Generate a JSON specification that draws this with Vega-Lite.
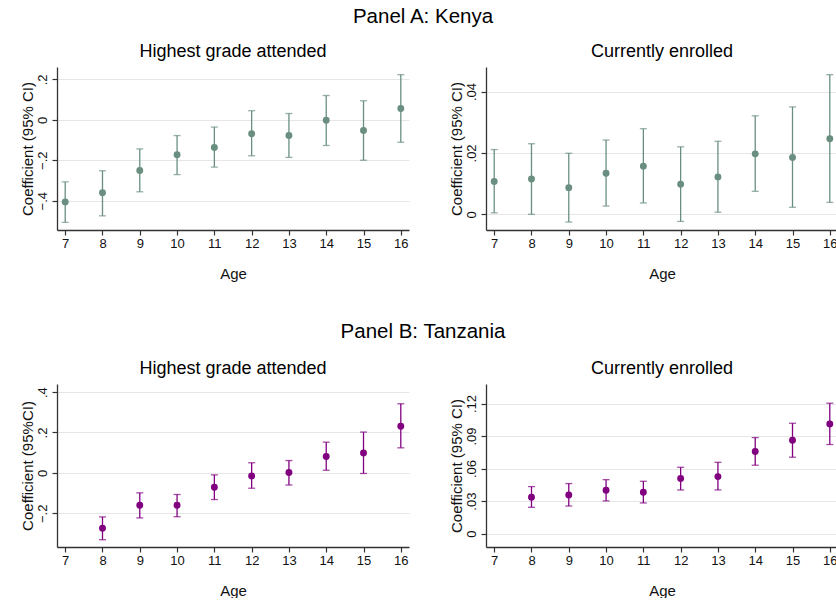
{
  "$schema": "https://vega.github.io/schema/vega-lite/v6.json",
  "background": "white",
  "padding": {"left": 20, "top": 6, "right": 0, "bottom": 0},
  "config": {
    "font": "Liberation Sans",
    "view": {"stroke": null},
    "title": {"font": "Liberation Sans", "fontWeight": "normal", "color": "black"},
    "axis": {
      "labelFont": "Liberation Sans",
      "titleFont": "Liberation Sans",
      "labelFontSize": 13,
      "titleFontSize": 15,
      "titleFontWeight": "normal",
      "labelColor": "#111",
      "titleColor": "#111",
      "domainColor": "#333",
      "domainWidth": 1.3,
      "tickColor": "#333",
      "tickWidth": 1.2,
      "tickSize": 5
    },
    "axisX": {"grid": false, "labelPadding": 2, "titlePadding": 16},
    "axisY": {
      "grid": true,
      "gridColor": "#e6e6e6",
      "gridWidth": 1.2,
      "labelAngle": -90,
      "labelAlign": "center",
      "labelBaseline": "bottom",
      "labelPadding": 3,
      "titlePadding": 1
    }
  },
  "datasets": {
    "kenya_grade": [
      {"age": 7, "coef": -0.406, "lo": -0.507, "hi": -0.307},
      {"age": 8, "coef": -0.361, "lo": -0.475, "hi": -0.252},
      {"age": 9, "coef": -0.251, "lo": -0.356, "hi": -0.144},
      {"age": 10, "coef": -0.173, "lo": -0.271, "hi": -0.078},
      {"age": 11, "coef": -0.137, "lo": -0.234, "hi": -0.036},
      {"age": 12, "coef": -0.069, "lo": -0.178, "hi": 0.045},
      {"age": 13, "coef": -0.078, "lo": -0.186, "hi": 0.031},
      {"age": 14, "coef": -0.002, "lo": -0.127, "hi": 0.120},
      {"age": 15, "coef": -0.053, "lo": -0.200, "hi": 0.094},
      {"age": 16, "coef": 0.056, "lo": -0.111, "hi": 0.223}
    ],
    "kenya_enrolled": [
      {"age": 7, "coef": 0.0107, "lo": 0.0005, "hi": 0.0211},
      {"age": 8, "coef": 0.0115, "lo": 0.0000, "hi": 0.0230},
      {"age": 9, "coef": 0.0087, "lo": -0.0025, "hi": 0.0199},
      {"age": 10, "coef": 0.0134, "lo": 0.0027, "hi": 0.0242},
      {"age": 11, "coef": 0.0157, "lo": 0.0037, "hi": 0.0279},
      {"age": 12, "coef": 0.0098, "lo": -0.0023, "hi": 0.0220},
      {"age": 13, "coef": 0.0122, "lo": 0.0007, "hi": 0.0238},
      {"age": 14, "coef": 0.0197, "lo": 0.0075, "hi": 0.0321},
      {"age": 15, "coef": 0.0185, "lo": 0.0023, "hi": 0.0350},
      {"age": 16, "coef": 0.0246, "lo": 0.0039, "hi": 0.0455}
    ],
    "tanzania_grade": [
      {"age": 8, "coef": -0.274, "lo": -0.331, "hi": -0.218},
      {"age": 9, "coef": -0.160, "lo": -0.223, "hi": -0.099},
      {"age": 10, "coef": -0.160, "lo": -0.217, "hi": -0.107},
      {"age": 11, "coef": -0.071, "lo": -0.132, "hi": -0.010},
      {"age": 12, "coef": -0.015, "lo": -0.076, "hi": 0.050},
      {"age": 13, "coef": 0.002, "lo": -0.060, "hi": 0.061},
      {"age": 14, "coef": 0.081, "lo": 0.013, "hi": 0.152},
      {"age": 15, "coef": 0.099, "lo": -0.003, "hi": 0.202},
      {"age": 16, "coef": 0.231, "lo": 0.124, "hi": 0.342}
    ],
    "tanzania_enrolled": [
      {"age": 8, "coef": 0.0335, "lo": 0.0243, "hi": 0.0434},
      {"age": 9, "coef": 0.0357, "lo": 0.0255, "hi": 0.0462},
      {"age": 10, "coef": 0.0400, "lo": 0.0302, "hi": 0.0498},
      {"age": 11, "coef": 0.0382, "lo": 0.0283, "hi": 0.0483},
      {"age": 12, "coef": 0.0508, "lo": 0.0403, "hi": 0.0612},
      {"age": 13, "coef": 0.0526, "lo": 0.0403, "hi": 0.0658},
      {"age": 14, "coef": 0.0757, "lo": 0.0631, "hi": 0.0886},
      {"age": 15, "coef": 0.0862, "lo": 0.0705, "hi": 0.1018},
      {"age": 16, "coef": 0.1012, "lo": 0.0822, "hi": 0.1203}
    ]
  },
  "spacing": 40,
  "vconcat": [
    {
      "title": {"text": "Panel A: Kenya", "fontSize": 20.5, "anchor": "middle", "offset": 16, "dx": -6},
      "spacing": 40,
      "hconcat": [
        {
          "width": 352,
          "height": 163,
          "title": {"text": "Highest grade attended", "fontSize": 18, "offset": 6},
          "data": {"name": "kenya_grade"},
          "encoding": {
            "x": {"field": "age", "type": "quantitative", "title": "Age",
                  "scale": {"domain": [6.78, 16.22], "nice": false, "zero": false},
                  "axis": {"values": [7, 8, 9, 10, 11, 12, 13, 14, 15, 16], "format": "d"}}
          },
          "layer": [
            {
              "mark": {"type": "rule", "color": "#555", "strokeWidth": 1.6},
              "encoding": {"y": {"datum": 0, "type": "quantitative"}}
            },
            {
              "mark": {"type": "errorbar", "ticks": {"size": 7}, "thickness": 1.3, "color": "#6a8f80"},
              "encoding": {
                "y": {"field": "lo", "type": "quantitative", "title": "Coefficient (95% CI)",
                      "scale": {"domain": [-0.545, 0.261], "nice": false, "zero": false},
                      "axis": {"grid": true, "values": [-0.4, -0.2, 0, 0.2],
                               "labelExpr": "datum.value == 0 ? '0' : replace(format(datum.value, '.2~f'), '0.', '.')"}},
                "y2": {"field": "hi"}
              }
            },
            {
              "mark": {"type": "point", "filled": true, "size": 48, "opacity": 1, "color": "#6a8f80"},
              "encoding": {"y": {"field": "coef", "type": "quantitative"}}
            }
          ]
        },
        {
          "width": 352,
          "height": 163,
          "title": {"text": "Currently enrolled", "fontSize": 18, "offset": 6},
          "data": {"name": "kenya_enrolled"},
          "encoding": {
            "x": {"field": "age", "type": "quantitative", "title": "Age",
                  "scale": {"domain": [6.78, 16.22], "nice": false, "zero": false},
                  "axis": {"values": [7, 8, 9, 10, 11, 12, 13, 14, 15, 16], "format": "d"}}
          },
          "layer": [
            {
              "mark": {"type": "rule", "color": "#111", "strokeWidth": 1.2},
              "encoding": {"y": {"datum": 0, "type": "quantitative"}}
            },
            {
              "mark": {"type": "errorbar", "ticks": {"size": 7}, "thickness": 1.3, "color": "#6a8f80"},
              "encoding": {
                "y": {"field": "lo", "type": "quantitative", "title": "Coefficient (95% CI)",
                      "scale": {"domain": [-0.0051, 0.048], "nice": false, "zero": false},
                      "axis": {"grid": true, "values": [0, 0.02, 0.04],
                               "labelExpr": "datum.value == 0 ? '0' : replace(format(datum.value, '.2~f'), '0.', '.')"}},
                "y2": {"field": "hi"}
              }
            },
            {
              "mark": {"type": "point", "filled": true, "size": 48, "opacity": 1, "color": "#6a8f80"},
              "encoding": {"y": {"field": "coef", "type": "quantitative"}}
            }
          ]
        }
      ]
    },
    {
      "title": {"text": "Panel B: Tanzania", "fontSize": 20.5, "anchor": "middle", "offset": 18, "dx": -6},
      "spacing": 40,
      "hconcat": [
        {
          "width": 352,
          "height": 163,
          "title": {"text": "Highest grade attended", "fontSize": 18, "offset": 6},
          "data": {"name": "tanzania_grade"},
          "encoding": {
            "x": {"field": "age", "type": "quantitative", "title": "Age",
                  "scale": {"domain": [6.78, 16.22], "nice": false, "zero": false},
                  "axis": {"values": [7, 8, 9, 10, 11, 12, 13, 14, 15, 16], "format": "d"}}
          },
          "layer": [
            {
              "mark": {"type": "rule", "color": "#555", "strokeWidth": 1.6},
              "encoding": {"y": {"datum": 0, "type": "quantitative"}}
            },
            {
              "mark": {"type": "errorbar", "ticks": {"size": 7}, "thickness": 1.3, "color": "#800080"},
              "encoding": {
                "y": {"field": "lo", "type": "quantitative", "title": "Coefficient (95%CI)",
                      "scale": {"domain": [-0.367, 0.44], "nice": false, "zero": false},
                      "axis": {"grid": true, "values": [-0.2, 0, 0.2, 0.4],
                               "labelExpr": "datum.value == 0 ? '0' : replace(format(datum.value, '.2~f'), '0.', '.')"}},
                "y2": {"field": "hi"}
              }
            },
            {
              "mark": {"type": "point", "filled": true, "size": 48, "opacity": 1, "color": "#800080"},
              "encoding": {"y": {"field": "coef", "type": "quantitative"}}
            }
          ]
        },
        {
          "width": 352,
          "height": 163,
          "title": {"text": "Currently enrolled", "fontSize": 18, "offset": 6},
          "data": {"name": "tanzania_enrolled"},
          "encoding": {
            "x": {"field": "age", "type": "quantitative", "title": "Age",
                  "scale": {"domain": [6.78, 16.22], "nice": false, "zero": false},
                  "axis": {"values": [7, 8, 9, 10, 11, 12, 13, 14, 15, 16], "format": "d"}}
          },
          "layer": [
            {
              "mark": {"type": "rule", "color": "#555", "strokeWidth": 1.6},
              "encoding": {"y": {"datum": 0, "type": "quantitative"}}
            },
            {
              "mark": {"type": "errorbar", "ticks": {"size": 7}, "thickness": 1.3, "color": "#800080"},
              "encoding": {
                "y": {"field": "lo", "type": "quantitative", "title": "Coefficient (95% CI)",
                      "scale": {"domain": [-0.0123, 0.138], "nice": false, "zero": false},
                      "axis": {"grid": true, "values": [0, 0.03, 0.06, 0.09, 0.12],
                               "labelExpr": "datum.value == 0 ? '0' : replace(format(datum.value, '.2~f'), '0.', '.')"}},
                "y2": {"field": "hi"}
              }
            },
            {
              "mark": {"type": "point", "filled": true, "size": 48, "opacity": 1, "color": "#800080"},
              "encoding": {"y": {"field": "coef", "type": "quantitative"}}
            }
          ]
        }
      ]
    }
  ]
}
